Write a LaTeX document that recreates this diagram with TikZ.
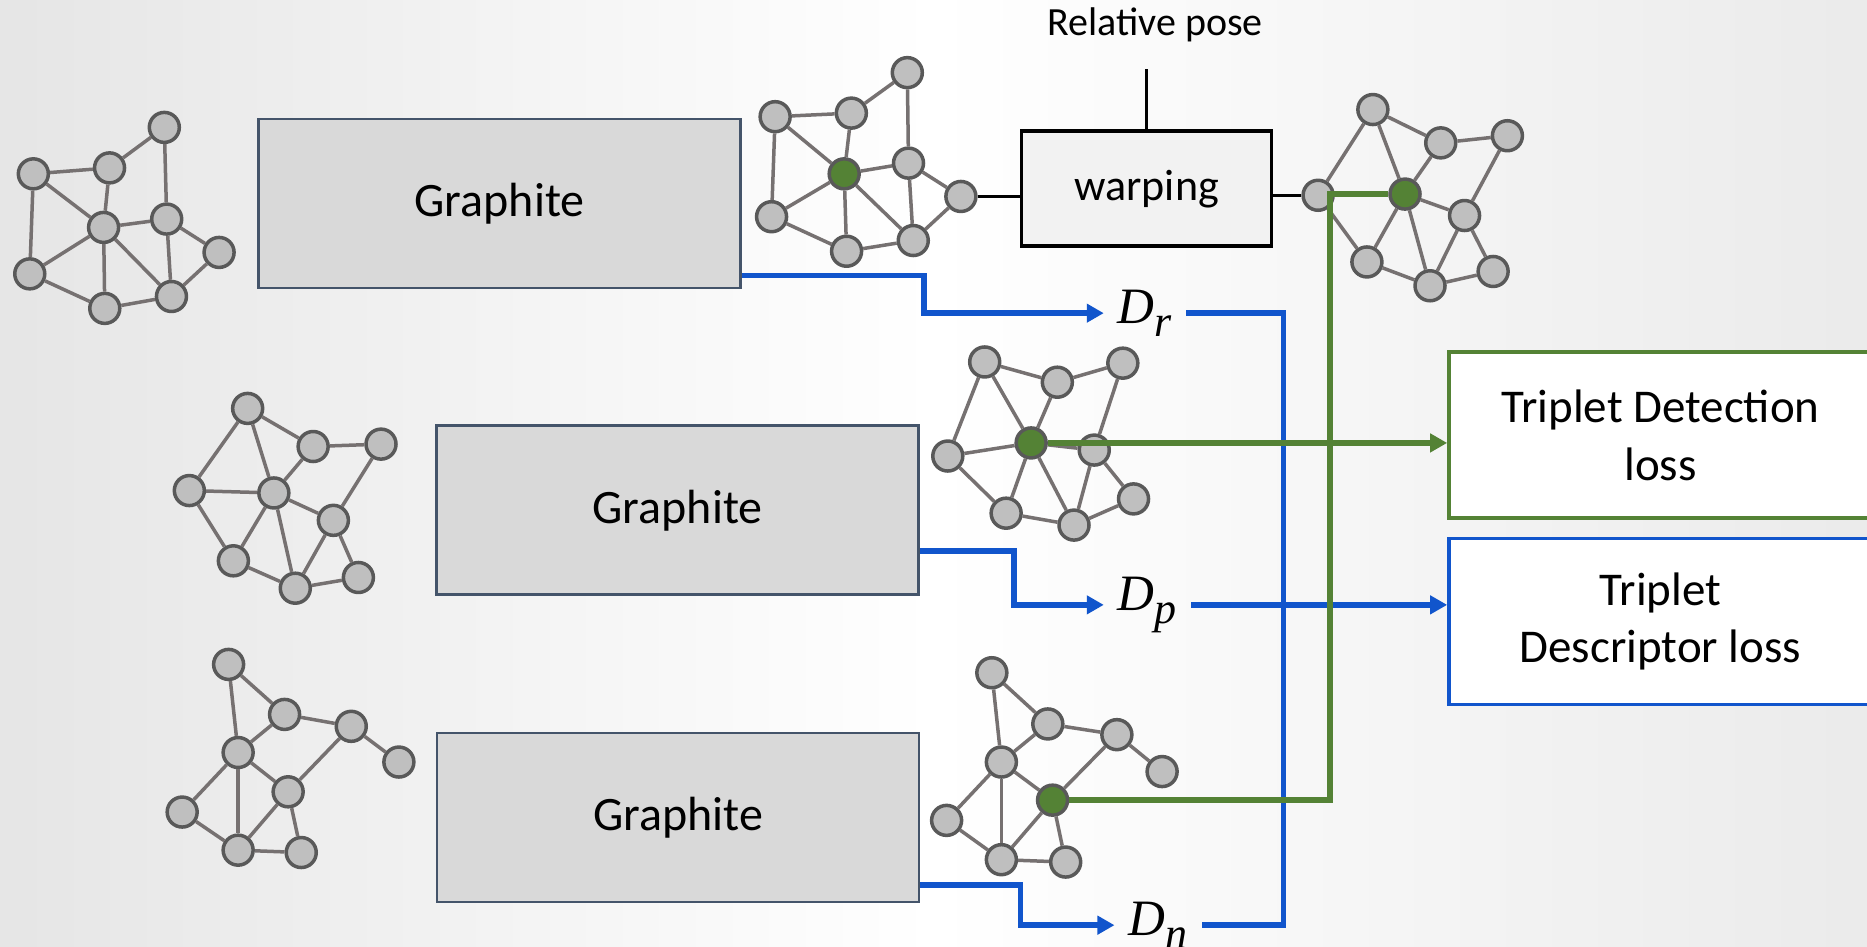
\documentclass[tikz,border=0pt]{standalone}
\usepackage{fontspec}
\setmainfont{Carlito}
\newfontfamily\descfont{Liberation Serif}
\usetikzlibrary{arrows.meta}

\definecolor{boxfill}{HTML}{D9D9D9}
\definecolor{boxline}{HTML}{44546A}
\definecolor{warpfill}{HTML}{F2F2F2}
\definecolor{nodefill}{HTML}{BFBFBF}
\definecolor{nodeline}{HTML}{595959}
\definecolor{edgegray}{HTML}{767171}
\definecolor{lossgreen}{HTML}{548235}
\definecolor{lossblue}{HTML}{1155CC}

\tikzset{
    graphite/.style={draw=boxline, fill=boxfill, line width=2.5pt, minimum width=482pt, minimum height=169pt, font=\fontsize{48}{58}\selectfont},
    warpbox/.style={draw=black, fill=warpfill, line width=3.5pt, minimum width=250pt, minimum height=115pt, font=\fontsize{44}{53}\selectfont},
    lossbox/.style={fill=white, line width=3.5pt, minimum width=423pt, minimum height=166pt, align=center, font=\fontsize{47}{57.5}\selectfont},
    gnode/.style={circle, draw=nodeline, fill=nodefill, line width=3.5pt, minimum size=30pt, inner sep=0pt},
    hnode/.style={gnode, fill=lossgreen},
    gedge/.style={draw=edgegray, line width=3.5pt},
    dlabel/.style={anchor=west, inner xsep=14pt, inner ysep=2pt, font=\descfont\itshape\fontsize{51}{56}\selectfont},
    blueline/.style={draw=lossblue, line width=5.5pt},
    greenline/.style={draw=lossgreen, line width=5.5pt},
    blackline/.style={draw=black, line width=3.5pt}
}

\begin{document}
\begin{tikzpicture}[x=1.1907pt,y=-1.1907pt,>={Triangle[length=17pt,width=18pt]}]
            \useasboundingbox (0,0) rectangle (1568,795);
            \clip (0,0) rectangle (1568,795);

            % slide background
            \shade[left color=black!10, right color=black!8, middle color=white] (0,0) rectangle (1568,795);

            % the three networks
            \node[graphite] (gr1) at (419.5,171) {Graphite};
            \node[graphite] (gr2) at (569,428.5) {Graphite};
            \node[graphite] (gr3) at (569.5,686.5) {Graphite};

            % warping with the relative pose
            \node[warpbox] (warp) at (963,158.5) {warping};
            \node[font=\fontsize{40}{48}\selectfont] (pose) at (970,21) {Relative pose};

            % losses
            \node[lossbox, draw=lossgreen] (det) at (1394.5,365.5) {Triplet Detection\\loss};
            \node[lossbox, draw=lossblue] (desc) at (1394.5,522) {Triplet\\Descriptor loss};

            % input graphs
            \foreach \n/\x/\y in {1/138/107, 2/92/141, 3/28/146, 4/87/191, 5/140/184, 6/184/212, 7/25/230, 8/88/259, 9/144/249}
                \node[gnode] (A\n) at (\x,\y) {};
            \foreach \n/\x/\y in {1/208/343, 2/263/375, 3/320/373, 4/159/412, 5/230/414, 6/280/437, 7/196/471, 8/248/494, 9/301/485}
                \node[gnode] (E\n) at (\x,\y) {};
            \foreach \n/\x/\y in {1/192/558, 2/239/600, 3/295/610, 4/200/632, 5/335/640, 6/242/665, 7/153/682, 8/200/714, 9/253/716}
                \node[gnode] (F\n) at (\x,\y) {};

            % output graphs, keypoint in green
            \foreach \n/\x/\y in {1/762/61, 2/715/95, 3/651/98, 5/763/137, 6/807/165, 7/648/182, 8/711/211, 9/767/202}
                \node[gnode] (B\n) at (\x,\y) {};
            \node[hnode] (B4) at (709,146) {};
            \foreach \n/\x/\y in {1/1153/92, 2/1210/120, 3/1266/114, 4/1107/164, 6/1230/181, 7/1148/220, 8/1201/240, 9/1254/228}
                \node[gnode] (C\n) at (\x,\y) {};
            \node[hnode] (C5) at (1180,163) {};
            \foreach \n/\x/\y in {1/827/304, 2/888/321, 3/943/305, 4/796/383, 6/919/378, 7/845/431, 8/902/441, 9/952/419}
                \node[gnode] (D\n) at (\x,\y) {};
            \node[hnode] (D5) at (866,372) {};
            \foreach \n/\x/\y in {1/833/565, 2/880/608, 3/938/617, 4/841/640, 5/976/648, 7/795/689, 8/841/722, 9/895/724}
                \node[gnode] (G\n) at (\x,\y) {};
            \node[hnode] (G6) at (884,672) {};

            % graph edges
            \foreach \g in {A,B}
                \foreach \u/\v in {3/2, 2/1, 1/5, 3/4, 3/7, 2/4, 4/5, 4/7, 4/8, 4/9, 5/9, 5/6, 6/9, 7/8, 8/9}
                    \draw[gedge] (\g\u) -- (\g\v);
            \foreach \g in {C,D,E}
                \foreach \u/\v in {1/2, 2/3, 1/4, 1/5, 2/5, 3/6, 4/5, 4/7, 5/6, 5/7, 5/8, 6/8, 6/9, 7/8, 8/9}
                    \draw[gedge] (\g\u) -- (\g\v);
            \foreach \g in {F,G}
                \foreach \u/\v in {1/2, 1/4, 2/3, 2/4, 3/5, 3/6, 4/6, 4/7, 4/8, 6/8, 6/9, 7/8, 8/9}
                    \draw[gedge] (\g\u) -- (\g\v);

            % descriptors
            \node[dlabel] (Dr) at (927,263) {D\raisebox{-13pt}{\fontsize{44}{44}\selectfont r}};
            \node[dlabel] (Dp) at (927,508) {D\raisebox{-13pt}{\fontsize{44}{44}\selectfont p}};
            \node[dlabel] (Dn) at (936,777) {D\raisebox{-13pt}{\fontsize{44}{44}\selectfont n}};
            \coordinate (bbus) at (1078,500);
            \coordinate (gbus) at (1117,672);

            % warping in and out
            \draw[blackline] (B6.east) -- (B6.east -| warp.west);
            \draw[blackline] (warp.east |- C4.west) -- (C4.west);
            \draw[blackline] (warp.north) -- ++(0,-51);

            % descriptor paths
            \draw[blueline,->] ([yshift=14pt]gr1.south east) -- ++(153,0) |- (Dr.west);
            \draw[blueline,->] ([yshift=45pt]gr2.south east) -- ++(79,0) |- (Dp.west);
            \draw[blueline,->] ([yshift=18pt]gr3.south east) -- ++(84,0) |- (Dn.west);
            \draw[blueline] (Dr.east) -- (Dr.east -| bbus) -- (Dn.east -| bbus) -- (Dn.east);
            \draw[blueline,->] (Dp.east) -- (Dp.east -| desc.west);

            % detection paths
            \draw[greenline] (C5.west) -| (gbus) -- (G6.east);
            \draw[greenline,->] (D5.east) -- (D5.east -| det.west);
\end{tikzpicture}
\end{document}
